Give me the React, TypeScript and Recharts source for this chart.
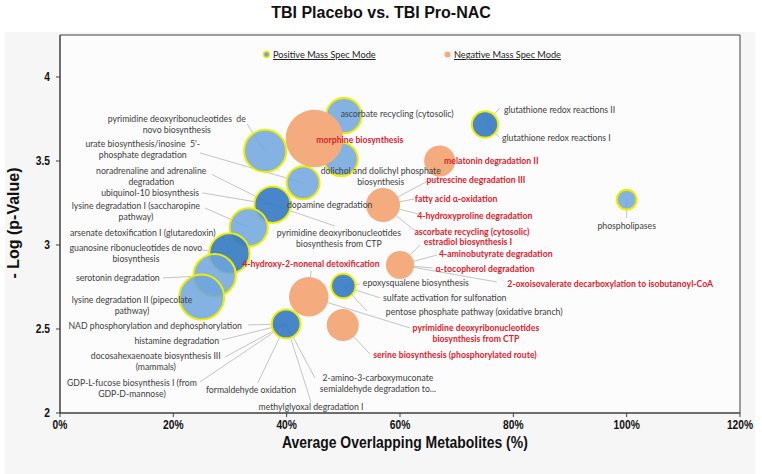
import {
  ScatterChart,
  Scatter,
  XAxis,
  YAxis,
  ZAxis,
  CartesianGrid,
  ReferenceArea,
  ReferenceLine,
  Legend,
  Cell,
} from "recharts";

const xTicks = [0, 20, 40, 60, 80, 100, 120];
const yTicks = [2, 2.5, 3, 3.5, 4];

// one entry per bubble: overlap = average overlapping metabolites (%), logP = -log(p), size = bubble size
const positiveBubbles = [
  { overlap: 50.1, logP: 3.77, size: 38, pathways: ["ascorbate recycling (cytosolic)"] },
  { overlap: 36.2, logP: 3.56, size: 54, pathways: ["pyrimidine deoxyribonucleotides de novo biosynthesis"] },
  { overlap: 49.6, logP: 3.51, size: 34, pathways: ["dolichol and dolichyl phosphate biosynthesis"] },
  { overlap: 42.9, logP: 3.37, size: 33, pathways: ["urate biosynthesis/inosine 5'-phosphate degradation"] },
  {
    overlap: 37.5, logP: 3.24, size: 40,
    pathways: [
      "noradrenaline and adrenaline degradation",
      "ubiquinol-10 biosynthesis",
      "dopamine degradation",
      "pyrimidine deoxyribonucleotides biosynthesis from CTP",
    ],
  },
  { overlap: 33.3, logP: 3.105, size: 44, pathways: ["lysine degradation I (saccharopine pathway)"] },
  {
    overlap: 29.9, logP: 2.95, size: 49,
    pathways: ["arsenate detoxification I (glutaredoxin)", "guanosine ribonucleotides de novo biosynthesis"],
  },
  { overlap: 27.3, logP: 2.82, size: 54, pathways: ["serotonin degradation"] },
  { overlap: 25.0, logP: 2.69, size: 61, pathways: ["lysine degradation II (pipecolate pathway)"] },
  {
    overlap: 39.9, logP: 2.53, size: 25,
    pathways: [
      "NAD phosphorylation and dephosphorylation",
      "histamine degradation",
      "docosahexaenoate biosynthesis III (mammals)",
      "GDP-L-fucose biosynthesis I (from GDP-D-mannose)",
      "formaldehyde oxidation",
      "2-amino-3-carboxymuconate semialdehyde degradation",
      "methylglyoxal degradation I",
    ],
  },
  {
    overlap: 50.0, logP: 2.756, size: 18,
    pathways: [
      "epoxysqualene biosynthesis",
      "sulfate activation for sulfonation",
      "pentose phosphate pathway (oxidative branch)",
    ],
  },
  { overlap: 75.0, logP: 3.717, size: 21, pathways: ["glutathione redox reactions II", "glutathione redox reactions I"] },
  { overlap: 100, logP: 3.27, size: 12, pathways: ["phospholipases"] },
];

const negativeBubbles = [
  { overlap: 44.9, logP: 3.634, size: 100, pathways: ["morphine biosynthesis"] },
  { overlap: 67.0, logP: 3.5, size: 29, pathways: ["melatonin degradation II"] },
  {
    overlap: 57.0, logP: 3.238, size: 35,
    pathways: [
      "putrescine degradation III",
      "fatty acid α-oxidation",
      "4-hydroxyproline degradation",
      "ascorbate recycling (cytosolic)",
    ],
  },
  {
    overlap: 60.0, logP: 2.881, size: 24,
    pathways: [
      "estradiol biosynthesis I",
      "4-aminobutyrate degradation",
      "α-tocopherol degradation",
      "2-oxoisovalerate decarboxylation to isobutanoyl-CoA",
    ],
  },
  {
    overlap: 43.9, logP: 2.692, size: 47,
    pathways: ["4-hydroxy-2-nonenal detoxification", "pyrimidine deoxyribonucleotides biosynthesis from CTP"],
  },
  { overlap: 49.9, logP: 2.524, size: 31, pathways: ["serine biosynthesis (phosphorylated route)"] },
];

// label text placement in chart units, tip = end of the leader line
const positiveLabels = [
  { pathway: "pyrimidine deoxyribonucleotides de novo biosynthesis", lines: ["pyrimidine deoxyribonucleotides  de", "novo biosynthesis"], lx: 20.6, ly: 3.75, tip: [33.0, 3.72] },
  { pathway: "urate biosynthesis/inosine 5'-phosphate degradation", lines: ["urate biosynthesis/inosine  5'-", "phosphate degradation"], lx: 14.6, ly: 3.601, tip: [24.7, 3.548] },
  { pathway: "noradrenaline and adrenaline degradation", lines: ["noradrenaline and adrenaline", "degradation"], lx: 16.1, ly: 3.44, tip: [26.8, 3.42] },
  { pathway: "ubiquinol-10 biosynthesis", lines: ["ubiquinol-10 biosynthesis"], lx: 15.9, ly: 3.31, tip: [25.1, 3.31] },
  { pathway: "dopamine degradation", lines: ["dopamine degradation"], lx: 47.6, ly: 3.238 },
  { pathway: "pyrimidine deoxyribonucleotides biosynthesis from CTP", lines: ["pyrimidine deoxyribonucleotides", "biosynthesis from CTP"], lx: 49.2, ly: 3.071, tip: [48.5, 3.113] },
  { pathway: "lysine degradation I (saccharopine pathway)", lines: ["lysine degradation I (saccharopine", "pathway)"], lx: 13.4, ly: 3.232, tip: [25.6, 3.22] },
  { pathway: "arsenate detoxification I (glutaredoxin)", lines: ["arsenate detoxification I (glutaredoxin)"], lx: 14.6, ly: 3.071, tip: [28.6, 3.065] },
  { pathway: "guanosine ribonucleotides de novo biosynthesis", lines: ["guanosine ribonucleotides de novo", "biosynthesis"], lx: 13.4, ly: 2.982, tip: [25.1, 2.97] },
  { pathway: "serotonin degradation", lines: ["serotonin degradation"], lx: 10.2, ly: 2.804, tip: [18.2, 2.804] },
  { pathway: "lysine degradation II (pipecolate pathway)", lines: ["lysine degradation II (pipecolate", "pathway)"], lx: 12.7, ly: 2.673 },
  { pathway: "NAD phosphorylation and dephosphorylation", lines: ["NAD phosphorylation and dephosphorylation"], lx: 16.8, ly: 2.518, tip: [33.2, 2.524] },
  { pathway: "histamine degradation", lines: ["histamine degradation"], lx: 20.6, ly: 2.429, tip: [28.6, 2.435] },
  { pathway: "docosahexaenoate biosynthesis III (mammals)", lines: ["docosahexaenoate biosynthesis III", "(mammals)"], lx: 16.9, ly: 2.339, tip: [29.1, 2.333] },
  { pathway: "GDP-L-fucose biosynthesis I (from GDP-D-mannose)", lines: ["GDP-L-fucose biosynthesis I (from", "GDP-D-mannose)"], lx: 12.7, ly: 2.179, tip: [24.7, 2.185] },
  { pathway: "formaldehyde oxidation", lines: ["formaldehyde oxidation"], lx: 33.7, ly: 2.137, tip: [34.9, 2.179] },
  { pathway: "methylglyoxal degradation I", lines: ["methylglyoxal degradation I"], lx: 44.3, ly: 2.036, tip: [44.3, 2.065] },
  { pathway: "2-amino-3-carboxymuconate semialdehyde degradation", lines: ["2-amino-3-carboxymuconate", "semialdehyde degradation to..."], lx: 56.1, ly: 2.208, tip: [45.0, 2.208] },
  { pathway: "epoxysqualene biosynthesis", lines: ["epoxysqualene biosynthesis"], lx: 62.8, ly: 2.774, tip: [52.9, 2.768] },
  { pathway: "sulfate activation for sulfonation", lines: ["sulfate activation for sulfonation"], lx: 67.9, ly: 2.685, tip: [56.5, 2.685] },
  { pathway: "pentose phosphate pathway (oxidative branch)", lines: ["pentose phosphate pathway (oxidative branch)"], lx: 73.1, ly: 2.601, tip: [54.2, 2.607] },
  { pathway: "ascorbate recycling (cytosolic)", lines: ["ascorbate recycling (cytosolic)"], lx: 59.5, ly: 3.78 },
  { pathway: "dolichol and dolichyl phosphate biosynthesis", lines: ["dolichol and dolichyl phosphate", "biosynthesis"], lx: 56.6, ly: 3.44 },
  { pathway: "glutathione redox reactions II", lines: ["glutathione redox reactions II"], lx: 78.35, ly: 3.804, tip: [77.6, 3.815], anchor: "start" },
  { pathway: "glutathione redox reactions I", lines: ["glutathione redox reactions I"], lx: 78.0, ly: 3.637, tip: [77.5, 3.643], anchor: "start" },
  { pathway: "phospholipases", lines: ["phospholipases"], lx: 100, ly: 3.113, tip: [100, 3.161] },
];

const negativeLabels = [
  { pathway: "morphine biosynthesis", lines: ["morphine biosynthesis"], lx: 52.9, ly: 3.625 },
  { pathway: "melatonin degradation II", lines: ["melatonin degradation II"], lx: 76.1, ly: 3.5 },
  { pathway: "putrescine degradation III", lines: ["putrescine degradation III"], lx: 73.4, ly: 3.387, tip: [64.9, 3.381] },
  { pathway: "fatty acid α-oxidation", lines: ["fatty acid α-oxidation"], lx: 69.9, ly: 3.274, tip: [62.5, 3.274] },
  { pathway: "4-hydroxyproline degradation", lines: ["4-hydroxyproline degradation"], lx: 73.2, ly: 3.173, tip: [63.2, 3.185] },
  { pathway: "ascorbate recycling (cytosolic)", lines: ["ascorbate recycling (cytosolic)"], lx: 72.7, ly: 3.077, tip: [62.5, 3.089] },
  { pathway: "estradiol biosynthesis I", lines: ["estradiol biosynthesis I"], lx: 72.0, ly: 3.018, tip: [63.5, 3.0] },
  { pathway: "4-aminobutyrate degradation", lines: ["4-aminobutyrate degradation"], lx: 76.9, ly: 2.946, tip: [66.5, 2.94] },
  { pathway: "α-tocopherol degradation", lines: ["α-tocopherol degradation"], lx: 75.0, ly: 2.857, tip: [65.8, 2.863] },
  { pathway: "2-oxoisovalerate decarboxylation to isobutanoyl-CoA", lines: ["2-oxoisovalerate decarboxylation to isobutanoyl-CoA"], lx: 97.1, ly: 2.768, tip: [77.1, 2.78] },
  { pathway: "4-hydroxy-2-nonenal detoxification", lines: ["4-hydroxy-2-nonenal detoxification"], lx: 44.3, ly: 2.887, tip: [44.3, 2.845] },
  { pathway: "pyrimidine deoxyribonucleotides biosynthesis from CTP", lines: ["pyrimidine deoxyribonucleotides", "biosynthesis from CTP"], lx: 73.4, ly: 2.506, tip: [61.8, 2.506] },
  { pathway: "serine biosynthesis (phosphorylated route)", lines: ["serine biosynthesis (phosphorylated route)"], lx: 69.7, ly: 2.345, tip: [54.7, 2.351] },
];

const POSITIVE = "Positive Mass Spec Mode";
const NEGATIVE = "Negative Mass Spec Mode";
const BLUE_LIGHT = "#6fa5dd";
const BLUE_DARK = "#3479c4";
const YELLOW = "#eeee00";
const ORANGE = "#f4ac7e";
const GREY_TEXT = "#404040";
const RED_TEXT = "#e3202c";
const labelFont = "Lato, 'Open Sans', sans-serif";
const boldFont = "'Liberation Sans', Arial, sans-serif";

const labelData = [
  ...positiveLabels.map((l) => ({ ...l, overlap: l.lx, logP: l.ly, color: GREY_TEXT, bold: false })),
  ...negativeLabels.map((l) => ({ ...l, overlap: l.lx, logP: l.ly, color: RED_TEXT, bold: true })),
];

const leaders = [
  ...positiveLabels.map((l) => ({ l, b: positiveBubbles.find((p) => p.pathways.includes(l.pathway)) })),
  ...negativeLabels.map((l) => ({ l, b: negativeBubbles.find((p) => p.pathways.includes(l.pathway)) })),
].filter((d) => d.l.tip && d.b);

const LabelShape = (props: any) => {
  const { cx, cy, payload } = props;
  if (cx == null || cy == null) return null;
  return (
    <text
      x={cx}
      y={cy}
      textAnchor={payload.anchor ?? "middle"}
      fill={payload.color}
      fontSize={8.7}
      fontWeight={payload.bold ? 700 : 400}
      fontFamily={labelFont}
    >
      {payload.lines.map((ln: string, i: number) => (
        <tspan key={i} x={cx} dy={i === 0 ? 3 : 11} style={{ whiteSpace: "pre" }}>
          {ln}
        </tspan>
      ))}
    </text>
  );
};

// condensed bold tick text (Arial Narrow look)
const NarrowTick = (props: any) => {
  const { x, y, payload, textAnchor, suffix, dy } = props;
  return (
    <text
      transform={`translate(${x},${y}) scale(0.82,1)`}
      textAnchor={textAnchor}
      dy={dy}
      fill="#111"
      fontFamily={boldFont}
      fontWeight={700}
      fontSize={12.5}
    >
      {`${payload.value}${suffix}`}
    </text>
  );
};

const legendDots: Record<string, { fill: string; stroke: string }> = {
  [POSITIVE]: { fill: BLUE_LIGHT, stroke: YELLOW },
  [NEGATIVE]: { fill: ORANGE, stroke: "none" },
};
const legendOrder = [POSITIVE, NEGATIVE];

const renderLegend = (props: any) => {
  const items = (props.payload ?? [])
    .filter((p: any) => legendOrder.includes(p.value))
    .sort((a: any, b: any) => legendOrder.indexOf(a.value) - legendOrder.indexOf(b.value));
  return (
    <div style={{ position: "relative", height: 14, fontFamily: labelFont, fontSize: 9.2, color: "#222" }}>
      {items.map((it: any, i: number) => (
        <div
          key={it.value}
          style={{ position: "absolute", left: i * 181, top: 0, display: "flex", alignItems: "center", whiteSpace: "nowrap" }}
        >
          <svg width={9} height={9}>
            <circle cx={4.5} cy={4.5} r={3} fill={legendDots[it.value].fill} stroke={legendDots[it.value].stroke} strokeWidth={1.4} />
          </svg>
          <span style={{ marginLeft: 2, textDecoration: "underline" }}>{it.value}</span>
        </div>
      ))}
    </div>
  );
};

const titleText = {
  display: "inline-block",
  fontFamily: boldFont,
  fontWeight: 700,
  color: "#111",
  whiteSpace: "nowrap" as const,
};

export default function App() {
  return (
    <div style={{ position: "absolute", left: 0, top: 0, width: 762, height: 474, background: "#fff" }}>
      <div style={{ position: "absolute", left: 5, top: 32, width: 750, height: 442, background: "#f6f6f6" }} />
      <div
        style={{
          position: "absolute",
          left: 0,
          top: 3,
          width: 762,
          textAlign: "center",
          fontFamily: boldFont,
          fontWeight: 700,
          fontSize: 16,
          lineHeight: "20px",
          color: "#111",
        }}
      >
        TBI Placebo vs. TBI Pro-NAC
      </div>
      <div style={{ position: "absolute", left: 0, top: 0 }}>
        <ScatterChart width={762} height={474} margin={{ top: 35, right: 22, bottom: 31, left: 0 }}>
          <CartesianGrid horizontal={false} vertical={false} fill="#fcfcfc" />
          <XAxis
            type="number"
            dataKey="overlap"
            domain={[0, 120]}
            ticks={xTicks}
            height={30}
            stroke="#404040"
            tickSize={4}
            tickMargin={3}
            tick={<NarrowTick suffix="%" dy="0.71em" />}
          />
          <YAxis
            type="number"
            dataKey="logP"
            domain={[2, 4.25]}
            ticks={yTicks}
            width={60}
            stroke="#404040"
            tickSize={4}
            tickMargin={6}
            tick={<NarrowTick suffix="" dy="0.355em" />}
          />
          <ZAxis type="number" dataKey="size" domain={[0, 100]} range={[0, 2600]} />
          <ReferenceArea x1={0} x2={120} y1={2} y2={4.25} fill="none" stroke="#404040" strokeWidth={1} ifOverflow="visible" />
          <Legend
            align="center"
            verticalAlign="middle"
            content={renderLegend}
            wrapperStyle={{ position: "absolute", top: 49, left: 262, width: 320, height: 14 }}
          />
          <Scatter
            name={POSITIVE}
            data={positiveBubbles}
            fill={BLUE_LIGHT}
            stroke={YELLOW}
            strokeWidth={2}
            isAnimationActive={false}
          >
            {positiveBubbles.map((b, i) => (
              <Cell
                key={`pos-${i}`}
                fill={b.pathways.length > 1 ? BLUE_DARK : BLUE_LIGHT}
                fillOpacity={b.pathways.length > 1 ? 0.9 : 0.85}
              />
            ))}
          </Scatter>
          <Scatter name={NEGATIVE} data={negativeBubbles} fill={ORANGE} isAnimationActive={false} />
          {leaders.map(({ l, b }, i) => (
            <ReferenceLine
              key={`lead-${i}`}
              segment={[
                { x: b!.overlap, y: b!.logP },
                { x: l.tip![0], y: l.tip![1] },
              ]}
              stroke="#c4c4c4"
              strokeWidth={1}
              ifOverflow="visible"
            />
          ))}
          <Scatter name="labels" data={labelData} legendType="none" shape={LabelShape} isAnimationActive={false} />
        </ScatterChart>
      </div>
      <div style={{ position: "absolute", left: 205, top: 433, width: 400, textAlign: "center", lineHeight: "20px" }}>
        <span style={{ ...titleText, fontSize: 17, transform: "scaleX(0.82)" }}>Average Overlapping Metabolites (%)</span>
      </div>
      <div
        style={{
          position: "absolute",
          left: 14 - 100,
          top: 223 - 10,
          width: 200,
          height: 20,
          textAlign: "center",
          lineHeight: "20px",
          transform: "rotate(-90deg)",
        }}
      >
        <span style={{ ...titleText, fontSize: 16 }}>- Log (p-Value)</span>
      </div>
    </div>
  );
}
